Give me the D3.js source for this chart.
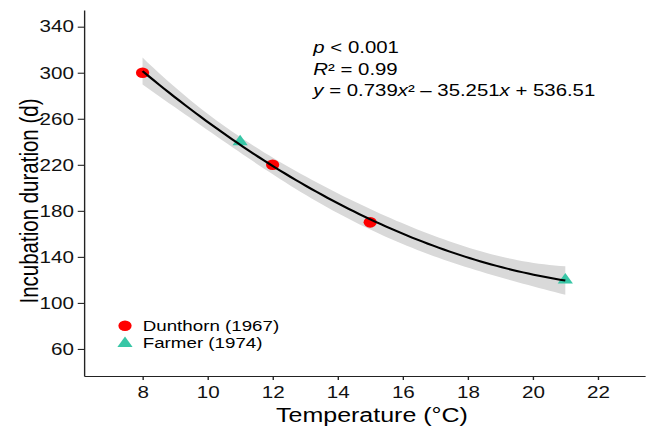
<!DOCTYPE html>
<html>
<head>
<meta charset="utf-8">
<script src="https://cdn.jsdelivr.net/npm/d3@7"></script>
<style>
  html, body { margin: 0; padding: 0; background: #fff; }
  svg { display: block; font-family: "Liberation Sans", Arial, sans-serif; }
</style>
</head>
<body>
<div id="chart"></div>
<script>
'use strict';

// ── Data ────────────────────────────────────────────────────────────────────
const dunthornTemp = [8, 12, 15];
const dunthornDays = [300, 220, 170];
const farmerTemp   = [11, 21];
const farmerDays   = [240, 120];

const xTicks = [8, 10, 12, 14, 16, 18, 20, 22];
const yTicks = [60, 100, 140, 180, 220, 260, 300, 340];

const legendLabels = ['Dunthorn (1967)', 'Farmer (1974)'];

// annotation text: [text, italic]
const statLines = [
  [['p', true], [' < 0.001', false]],
  [['R', true], ['² = 0.99', false]],
  [['y', true], [' = 0.739', false], ['x', true], ['² – 35.251', false], ['x', true], [' + 536.51', false]],
];

// ── Layout ──────────────────────────────────────────────────────────────────
const OUT_W = 648, OUT_H = 429;
const SX    = 1.25;               // source picture is stretched horizontally
const W     = OUT_W / SX;
const PLOT  = { left: 67.2, right: 516, top: 10, bottom: 376 };

const COL_RED  = '#ff0000';
const COL_TEAL = '#38c6a6';
const COL_BAND = '#d9d9d9';

const x = d3.scaleLinear().domain([6.2, 23.45]).range([PLOT.left, PLOT.right]);
const y = d3.scaleLinear().domain([36.5, 354.5]).range([PLOT.bottom, PLOT.top]);

// ── Quadratic least-squares fit + 95% band (like geom_smooth) ──────────────
const allX = dunthornTemp.concat(farmerTemp);
const allY = dunthornDays.concat(farmerDays);

function inv3(m) {
  const [a, b, c] = m[0], [d, e, f] = m[1], [g, h, i] = m[2];
  const A = e * i - f * h, B = -(d * i - f * g), C = d * h - e * g;
  const det = a * A + b * B + c * C;
  return [
    [A / det, -(b * i - c * h) / det, (b * f - c * e) / det],
    [B / det, (a * i - c * g) / det, -(a * f - c * d) / det],
    [C / det, -(a * h - b * g) / det, (a * e - b * d) / det],
  ];
}

const rows = allX.map(v => [1, v, v * v]);
const XtX = [0, 1, 2].map(r => [0, 1, 2].map(c => d3.sum(rows, row => row[r] * row[c])));
const XtY = [0, 1, 2].map(r => d3.sum(rows, (row, k) => row[r] * allY[k]));
const XtXi = inv3(XtX);
const beta = XtXi.map(r => r[0] * XtY[0] + r[1] * XtY[1] + r[2] * XtY[2]);
const predict = v => beta[0] + beta[1] * v + beta[2] * v * v;
const dfRes = allX.length - 3;
const sse = d3.sum(allX, (v, k) => (allY[k] - predict(v)) ** 2);
const s = Math.sqrt(sse / dfRes);
const T_CRIT = 4.303; // t(0.975, df = 2)

const xFit = d3.range(0, 81).map(k => 8 + (21 - 8) * k / 80);
const fit = xFit.map(v => {
  const vec = [1, v, v * v];
  let q = 0;
  for (let r = 0; r < 3; r++) for (let c = 0; c < 3; c++) q += vec[r] * XtXi[r][c] * vec[c];
  const yhat = predict(v), half = T_CRIT * s * Math.sqrt(q);
  return { x: v, y: yhat, lo: yhat - half, hi: yhat + half };
});

// ── SVG ─────────────────────────────────────────────────────────────────────
const svg = d3.select('#chart').append('svg')
  .attr('width', OUT_W)
  .attr('height', OUT_H)
  .attr('viewBox', `0 0 ${W} ${OUT_H}`)
  .attr('preserveAspectRatio', 'none');

// band
svg.append('path')
  .datum(fit)
  .attr('fill', COL_BAND)
  .attr('d', d3.area().x(d => x(d.x)).y0(d => y(d.lo)).y1(d => y(d.hi)));

// points
svg.append('g').selectAll('circle')
  .data(dunthornTemp)
  .enter().append('circle')
  .attr('cx', d => x(d))
  .attr('cy', (d, i) => y(dunthornDays[i]))
  .attr('r', 5.3)
  .attr('fill', COL_RED);

const tri = d3.symbol().type(d3.symbolTriangle).size(64);
svg.append('g').selectAll('path')
  .data(farmerTemp)
  .enter().append('path')
  .attr('transform', (d, i) => `translate(${x(d)},${y(farmerDays[i])})`)
  .attr('d', tri)
  .attr('fill', COL_TEAL);

// fitted line
svg.append('path')
  .datum(fit)
  .attr('fill', 'none')
  .attr('stroke', '#000')
  .attr('stroke-width', 2)
  .attr('d', d3.line().x(d => x(d.x)).y(d => y(d.y)));

// ── Axes ────────────────────────────────────────────────────────────────────
const xAxisG = svg.append('g')
  .attr('transform', `translate(0,${PLOT.bottom})`)
  .call(d3.axisBottom(x).tickValues(xTicks).tickSize(4).tickSizeOuter(0).tickPadding(6));

const yAxisG = svg.append('g')
  .attr('transform', `translate(${PLOT.left},0)`)
  .call(d3.axisLeft(y).tickValues(yTicks).tickSize(5).tickSizeOuter(0).tickPadding(3));

[xAxisG, yAxisG].forEach(g => {
  g.select('.domain').attr('stroke', '#222').attr('stroke-width', 1.1);
  g.selectAll('.tick line').attr('stroke', '#222').attr('stroke-width', 1.1);
  g.selectAll('.tick text')
    .attr('fill', '#111')
    .style('font-size', '16.5px')
    .style('font-family', '"Liberation Sans", Arial, sans-serif');
});

// axis titles
svg.append('text')
  .attr('x', 297.6)
  .attr('y', 422.3)
  .attr('text-anchor', 'middle')
  .style('font-size', '20px')
  .attr('fill', '#000')
  .text('Temperature (°C)');

svg.append('text')
  .attr('transform', `translate(30.4,201) rotate(-90)`)
  .attr('text-anchor', 'middle')
  .style('font-size', '20.5px')
  .attr('fill', '#000')
  .text('Incubation duration (d)');

// ── Annotation ──────────────────────────────────────────────────────────────
const ann = svg.append('text')
  .attr('x', 250.7)
  .attr('y', 53.3)
  .style('font-size', '16.3px')
  .attr('fill', '#000');

statLines.forEach((line, li) => {
  line.forEach((seg, si) => {
    const t = ann.append('tspan')
      .style('font-style', seg[1] ? 'italic' : 'normal')
      .text(seg[0]);
    if (si === 0) t.attr('x', 250.7).attr('dy', li === 0 ? 0 : 21.5);
  });
});

// ── Legend ──────────────────────────────────────────────────────────────────
const lg = svg.append('g').attr('transform', 'translate(100,325.7)');
lg.append('circle').attr('cx', 0).attr('cy', 0).attr('r', 5.3).attr('fill', COL_RED);
lg.append('path').attr('transform', 'translate(0,17.8)').attr('d', tri).attr('fill', COL_TEAL);
legendLabels.forEach((lab, i) => {
  lg.append('text')
    .attr('x', 14.2)
    .attr('y', 5 + i * 17.8)
    .style('font-size', '15px')
    .attr('fill', '#000')
    .text(lab);
});
</script>
</body>
</html>
